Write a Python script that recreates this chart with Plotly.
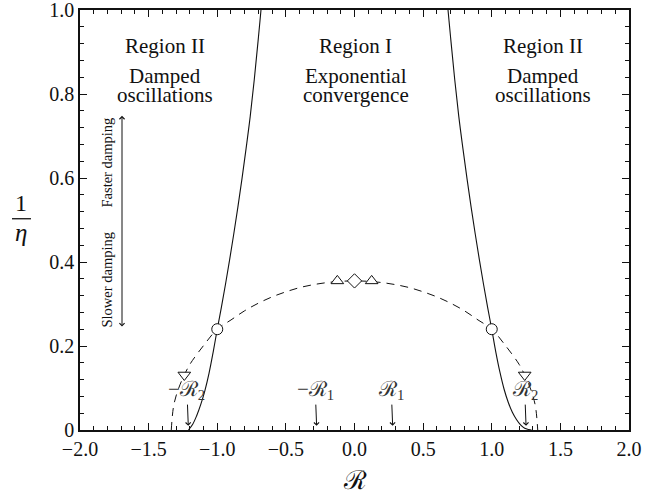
import plotly.graph_objects as go

# ---- data ----
solid_left_x = [-1.21, -1.18, -1.15, -1.12, -1.09, -1.06, -1.03, -1.00, -0.97, -0.94,
                -0.91, -0.88, -0.85, -0.82, -0.79, -0.76, -0.73, -0.70, -0.67, -0.65]
solid_left_y = [0.000, 0.013, 0.034, 0.061, 0.094, 0.135, 0.185, 0.240, 0.292, 0.347,
                0.405, 0.466, 0.530, 0.598, 0.670, 0.746, 0.835, 0.935, 1.040, 1.110]

solid_right_x = [0.65, 0.67, 0.70, 0.73, 0.76, 0.79, 0.82, 0.85, 0.88, 0.91, 0.94, 0.97,
                 1.00, 1.03, 1.06, 1.09, 1.12, 1.15, 1.18, 1.21, 1.24, 1.27, 1.29]
solid_right_y = [1.110, 1.040, 0.935, 0.835, 0.746, 0.670, 0.598, 0.530, 0.466, 0.405, 0.347, 0.292,
                 0.240, 0.185, 0.137, 0.097, 0.066, 0.042, 0.025, 0.012, 0.004, 0.001, 0.000]

dashed_x = [-1.335, -1.32, -1.30, -1.27, -1.24, -1.20, -1.10, -1.00, -0.90, -0.80, -0.70,
            -0.60, -0.50, -0.40, -0.30, -0.20, -0.10, 0.00, 0.10, 0.20, 0.30, 0.40, 0.50,
            0.60, 0.70, 0.80, 0.90, 1.00, 1.10, 1.20, 1.24, 1.27, 1.30, 1.32, 1.335]
dashed_y = [0.000, 0.053, 0.081, 0.109, 0.131, 0.156, 0.201, 0.240, 0.262, 0.284, 0.302,
            0.317, 0.329, 0.339, 0.346, 0.351, 0.354, 0.355, 0.354, 0.351, 0.346, 0.339, 0.329,
            0.317, 0.302, 0.284, 0.262, 0.240, 0.201, 0.156, 0.131, 0.109, 0.081, 0.053, 0.000]

circle_x = [-1.0, 1.0]
circle_y = [0.24, 0.24]
tri_down_x = [-1.24, 1.24]
tri_down_y = [0.131, 0.131]
tri_up_x = [-0.125, 0.125]
tri_up_y = [0.355, 0.355]
diamond_x = [0.0]
diamond_y = [0.355]

r_label_x = [-1.211, -0.276, 0.278, 1.25]
r_label_text = ["−ℛ<sub>2</sub>", "−ℛ<sub>1</sub>", "ℛ<sub>1</sub>", "ℛ<sub>2</sub>"]

x_tickvals = [-2.0, -1.5, -1.0, -0.5, 0.0, 0.5, 1.0, 1.5, 2.0]
x_ticktext = ["−2.0", "−1.5", "−1.0", "−0.5", "0.0", "0.5", "1.0", "1.5", "2.0"]
y_tickvals = [0.0, 0.2, 0.4, 0.6, 0.8, 1.0]
y_ticktext = ["0", "0.2", "0.4", "0.6", "0.8", "1.0"]

FONT = "Liberation Serif"
BLACK = "#111111"

fig = go.Figure()

fig.add_trace(go.Scatter(x=dashed_x, y=dashed_y, mode="lines",
                         line=dict(color=BLACK, width=1, dash="8px,6px", shape="spline"),
                         hoverinfo="skip"))
fig.add_trace(go.Scatter(x=solid_left_x, y=solid_left_y, mode="lines",
                         line=dict(color=BLACK, width=1.1, shape="spline"), hoverinfo="skip"))
fig.add_trace(go.Scatter(x=solid_right_x, y=solid_right_y, mode="lines",
                         line=dict(color=BLACK, width=1.1, shape="spline"), hoverinfo="skip"))

mk_line = dict(color=BLACK, width=1)
fig.add_trace(go.Scatter(x=circle_x, y=circle_y, mode="markers",
                         marker=dict(symbol="circle", size=11, color="white", line=mk_line)))
fig.add_trace(go.Scatter(x=tri_down_x, y=tri_down_y, mode="markers",
                         marker=dict(symbol="triangle-down", size=11, color="white", line=mk_line)))
fig.add_trace(go.Scatter(x=tri_up_x, y=tri_up_y, mode="markers",
                         marker=dict(symbol="triangle-up", size=11, color="white", line=mk_line)))
fig.add_trace(go.Scatter(x=diamond_x, y=diamond_y, mode="markers",
                         marker=dict(symbol="diamond", size=11, color="white", line=mk_line)))

ann = []
def txt(x, y, t, size=21, xref="x", yref="y", color=BLACK, **kw):
    ann.append(dict(x=x, y=y, text=t, xref=xref, yref=yref, showarrow=False,
                    font=dict(family=FONT, size=size, color=color),
                    xanchor="center", yanchor="middle", **kw))

# region labels
for cx, l1, l2, l3 in [(-1.38, "Region II", "Damped", "oscillations"),
                       (0.01, "Region I", "Exponential", "convergence"),
                       (1.37, "Region II", "Damped", "oscillations")]:
    txt(cx, 0.915, l1)
    txt(cx, 0.843, l2)
    txt(cx, 0.798, l3)

# damping arrow and texts
ann.append(dict(x=-1.694, y=0.748, ax=-1.694, ay=0.243, xref="x", yref="y",
                axref="x", ayref="y", text="", showarrow=True, arrowhead=4,
                arrowside="end+start", arrowsize=1, arrowwidth=1, arrowcolor=BLACK))
txt(-1.8, 0.638, "Faster damping", size=14.5, textangle=-90)
txt(-1.8, 0.357, "Slower damping", size=14.5, textangle=-90)

# R labels with arrows pointing down to the axis
for xv, t in zip(r_label_x, r_label_text):
    ann.append(dict(x=xv, y=0.010, ax=xv - 0.01, ay=0.095, xref="x", yref="y",
                    axref="x", ayref="y", text=t, showarrow=True, arrowhead=4,
                    arrowsize=1, arrowwidth=1, arrowcolor=BLACK, standoff=0,
                    font=dict(family=FONT, size=21, color="#333333")))

# axis titles
txt(0.0, -0.12, "ℛ", size=26, yref="paper")
txt(-0.1075, 0.540, "1", size=24, xref="paper", yref="paper")
txt(-0.1075, 0.470, "<i>η</i>", size=25, xref="paper", yref="paper")

fig.update_layout(
    width=645, height=499,
    margin=dict(l=80, r=16, t=10, b=69),
    paper_bgcolor="white", plot_bgcolor="white",
    showlegend=False,
    font=dict(family=FONT, size=20, color=BLACK),
    annotations=ann,
    shapes=[dict(type="line", xref="paper", yref="paper", x0=-0.1239, x1=-0.0893,
                 y0=0.503, y1=0.503, line=dict(color=BLACK, width=1.3))],
)
fig.update_xaxes(range=[-2, 2], tickvals=x_tickvals, ticktext=x_ticktext,
                 ticks="inside", ticklen=7, tickwidth=1, tickcolor=BLACK,
                 showline=True, linecolor=BLACK, linewidth=1.5, mirror="allticks",
                 showgrid=False, zeroline=False, automargin=False, ticklabeloverflow="allow",
                 minor=dict(dtick=0.1, ticks="inside", ticklen=4, tickcolor=BLACK, showgrid=False),
                 tickfont=dict(family=FONT, size=20, color=BLACK))
fig.update_yaxes(range=[0, 1], tickvals=y_tickvals, ticktext=y_ticktext,
                 ticks="inside", ticklen=7, tickwidth=1, tickcolor=BLACK,
                 showline=True, linecolor=BLACK, linewidth=1.5, mirror="allticks",
                 showgrid=False, zeroline=False, automargin=False, ticklabeloverflow="allow",
                 minor=dict(dtick=0.04, ticks="inside", ticklen=4, tickcolor=BLACK, showgrid=False),
                 tickfont=dict(family=FONT, size=20, color=BLACK))

fig.write_html("out.html", config={"displayModeBar": False},
               post_script="document.body.style.margin='0';document.body.style.overflow='hidden';")
